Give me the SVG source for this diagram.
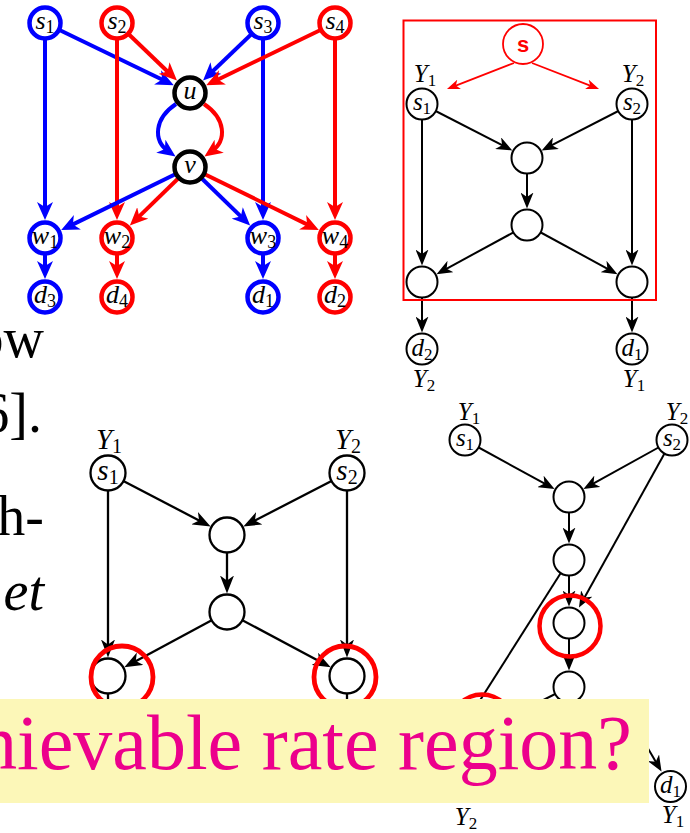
<svg xmlns="http://www.w3.org/2000/svg" width="690" height="833" viewBox="0 0 690 833">
<style>
.nb{fill:#fff;stroke:#0000ff;stroke-width:4.5}
.nr{fill:#fff;stroke:#ff0000;stroke-width:4.5}
.nk{fill:#fff;stroke:#000;stroke-width:4.5}
.n{fill:#fff;stroke:#000;stroke-width:2}
.n2{fill:#fff;stroke:#000;stroke-width:2.3}
.hl{fill:none;stroke:#ff0000;stroke-width:4.8}
.eb{fill:none;stroke:#0000ff;stroke-width:4;marker-end:url(#aB)}
.er{fill:none;stroke:#ff0000;stroke-width:4;marker-end:url(#aR)}
.ek{fill:none;stroke:#000;stroke-width:2;marker-end:url(#aK)}
.ek2{fill:none;stroke:#000;stroke-width:2.3;marker-end:url(#aK2)}
.el{fill:none;stroke:#000;stroke-width:2}
.el2{fill:none;stroke:#000;stroke-width:2.3}
.es{fill:none;stroke:#ff0000;stroke-width:1.8;marker-end:url(#aR2)}
text{font-family:"Liberation Serif","Times New Roman",serif;fill:#000}
.m{text-anchor:middle}
.i{font-style:italic}
.f26{font-size:26px}.f25{font-size:25px}.f29{font-size:29px}
.s18{font-size:18px}.s17{font-size:17px}.s20{font-size:20px}
.big{font-size:56px;text-anchor:end}
</style>
<defs>
<marker id="aB" markerUnits="userSpaceOnUse" viewBox="0 0 18 16" markerWidth="18" markerHeight="16" refX="10" refY="8" orient="auto"><path d="M0,0 L18,8 L0,16 L5,8 Z" fill="#0000ff"/></marker>
<marker id="aR" markerUnits="userSpaceOnUse" viewBox="0 0 18 16" markerWidth="18" markerHeight="16" refX="10" refY="8" orient="auto"><path d="M0,0 L18,8 L0,16 L5,8 Z" fill="#ff0000"/></marker>
<marker id="aK" markerUnits="userSpaceOnUse" viewBox="0 0 16 13" markerWidth="16" markerHeight="13" refX="10" refY="6.5" orient="auto"><path d="M0,0 L16,6.5 L0,13 L4.5,6.5 Z" fill="#000"/></marker>
<marker id="aK2" markerUnits="userSpaceOnUse" viewBox="0 0 18 14" markerWidth="18" markerHeight="14" refX="12" refY="7" orient="auto"><path d="M0,0 L18,7 L0,14 L5,7 Z" fill="#000"/></marker>
<marker id="aR2" markerUnits="userSpaceOnUse" viewBox="0 0 13 10" markerWidth="13" markerHeight="10" refX="9" refY="5" orient="auto"><path d="M0,0 L13,5 L0,10 L3.5,5 Z" fill="#ff0000"/></marker>
</defs>

<!-- connectors -->
<g id="connectors">
  <!-- top-left network -->
  <path class="eb" d="M45,23 L45,212"/>
  <path class="eb" d="M45,23 L166.6,81.7"/>
  <path class="er" d="M117,23 L171.2,75"/>
  <path class="er" d="M117,23 L117,212"/>
  <path class="eb" d="M263,23 L208.8,75"/>
  <path class="eb" d="M263,23 L263,212"/>
  <path class="er" d="M335,23 L213.4,81.7"/>
  <path class="er" d="M335,23 L335,212"/>
  <path class="eb" d="M176,104 C155,118 152,140 169,152"/>
  <path class="er" d="M204,104 C225,118 228,140 211,152"/>
  <path class="eb" d="M190,167 L68.4,226.6"/>
  <path class="er" d="M190,167 L135.6,219.9"/>
  <path class="eb" d="M190,167 L244.4,219.9"/>
  <path class="er" d="M190,167 L311.6,226.6"/>
  <path class="eb" d="M45,250 L45,271"/>
  <path class="er" d="M117,250 L117,271"/>
  <path class="eb" d="M263,250 L263,271"/>
  <path class="er" d="M335,250 L335,271"/>
  <!-- top-right network -->
  <path class="es" d="M514,63 L450.7,87.6"/>
  <path class="es" d="M532,63 L595.3,87.6"/>
  <path class="ek" d="M422,104 L507,147.7"/>
  <path class="ek" d="M632,104 L547,147.7"/>
  <path class="ek" d="M527,158 L527,202.5"/>
  <path class="ek" d="M422,104 L422,259.5"/>
  <path class="ek" d="M632,104 L632,259.5"/>
  <path class="ek" d="M527,225 L441.8,271.3"/>
  <path class="ek" d="M527,225 L612.2,271.3"/>
  <path class="ek" d="M422,282 L422,326.5"/>
  <path class="ek" d="M632,282 L632,326.5"/>
  <!-- bottom-left network -->
  <path class="ek2" d="M108,473 L205.3,523.7"/>
  <path class="ek2" d="M347,473 L248.7,523.75"/>
  <path class="ek2" d="M227,535 L227,587.5"/>
  <path class="ek2" d="M108,473 L108,651.5"/>
  <path class="ek2" d="M347,473 L347,651.5"/>
  <path class="ek2" d="M227,612 L129.6,664.4"/>
  <path class="ek2" d="M227,612 L325.4,664.5"/>
  <path class="el2" d="M108,676 L108,730"/>
  <path class="el2" d="M347,676 L347,730"/>
  <!-- bottom-right network -->
  <path class="ek" d="M465,440 L549.3,486.2"/>
  <path class="ek" d="M672,440 L588.7,486.1"/>
  <path class="ek" d="M569,497 L569,537.5"/>
  <path class="ek" d="M569,560 L569,600.5"/>
  <path class="ek" d="M672,440 L581.9,602.3"/>
  <path class="ek" d="M569,623 L569,664.5"/>
  <path class="el" d="M569,560 L458,735"/>
  <path class="el" d="M569,687 L480,732"/>
  <path class="ek" d="M636,728 L658.5,766.4"/>
</g>

<!-- top-left network nodes -->
<g id="tl-s1"><circle class="nb" cx="45" cy="23" r="15.5"/><text class="m f26" x="45" y="29"><tspan class="i">s</tspan><tspan class="s18" dy="4">1</tspan></text></g>
<g id="tl-s2"><circle class="nr" cx="117" cy="23" r="15.5"/><text class="m f26" x="117" y="29"><tspan class="i">s</tspan><tspan class="s18" dy="4">2</tspan></text></g>
<g id="tl-s3"><circle class="nb" cx="263" cy="23" r="15.5"/><text class="m f26" x="263" y="29"><tspan class="i">s</tspan><tspan class="s18" dy="4">3</tspan></text></g>
<g id="tl-s4"><circle class="nr" cx="335" cy="23" r="15.5"/><text class="m f26" x="335" y="29"><tspan class="i">s</tspan><tspan class="s18" dy="4">4</tspan></text></g>
<g id="tl-u"><circle class="nk" cx="190" cy="93" r="15.5"/><text class="m f26 i" x="190" y="99">u</text></g>
<g id="tl-v"><circle class="nk" cx="190" cy="167" r="15.5"/><text class="m f26 i" x="190" y="173">v</text></g>
<g id="tl-w1"><circle class="nb" cx="45" cy="238" r="15.5"/><text class="m f26" x="45" y="244"><tspan class="i">w</tspan><tspan class="s18" dy="4">1</tspan></text></g>
<g id="tl-w2"><circle class="nr" cx="117" cy="238" r="15.5"/><text class="m f26" x="117" y="244"><tspan class="i">w</tspan><tspan class="s18" dy="4">2</tspan></text></g>
<g id="tl-w3"><circle class="nb" cx="263" cy="238" r="15.5"/><text class="m f26" x="263" y="244"><tspan class="i">w</tspan><tspan class="s18" dy="4">3</tspan></text></g>
<g id="tl-w4"><circle class="nr" cx="335" cy="238" r="15.5"/><text class="m f26" x="335" y="244"><tspan class="i">w</tspan><tspan class="s18" dy="4">4</tspan></text></g>
<g id="tl-d3"><circle class="nb" cx="45" cy="297" r="15.5"/><text class="m f26" x="45" y="303"><tspan class="i">d</tspan><tspan class="s18" dy="4">3</tspan></text></g>
<g id="tl-d4"><circle class="nr" cx="117" cy="297" r="15.5"/><text class="m f26" x="117" y="303"><tspan class="i">d</tspan><tspan class="s18" dy="4">4</tspan></text></g>
<g id="tl-d1"><circle class="nb" cx="263" cy="297" r="15.5"/><text class="m f26" x="263" y="303"><tspan class="i">d</tspan><tspan class="s18" dy="4">1</tspan></text></g>
<g id="tl-d2"><circle class="nr" cx="335" cy="297" r="15.5"/><text class="m f26" x="335" y="303"><tspan class="i">d</tspan><tspan class="s18" dy="4">2</tspan></text></g>

<!-- top-right network -->
<g id="tr-box"><rect x="403.5" y="20.5" width="252.5" height="279.5" fill="none" stroke="#ff0000" stroke-width="2"/></g>
<g id="tr-s"><circle cx="523" cy="44" r="20" fill="#fff" stroke="#ff0000" stroke-width="1.8"/><text class="m" x="523" y="52" style="font-family:'Liberation Sans',Arial,sans-serif;font-weight:bold;font-size:22px;fill:#ff0000">s</text></g>
<g id="tr-s1"><text class="m f25" x="425" y="82"><tspan class="i">Y</tspan><tspan class="s17" dy="4">1</tspan></text><circle class="n" cx="422" cy="104" r="15.5"/><text class="m f25" x="422" y="110"><tspan class="i">s</tspan><tspan class="s17" dy="4">1</tspan></text></g>
<g id="tr-s2"><text class="m f25" x="633" y="82"><tspan class="i">Y</tspan><tspan class="s17" dy="4">2</tspan></text><circle class="n" cx="632" cy="104" r="15.5"/><text class="m f25" x="632" y="110"><tspan class="i">s</tspan><tspan class="s17" dy="4">2</tspan></text></g>
<g id="tr-m1"><circle class="n" cx="527" cy="158" r="15.5"/></g>
<g id="tr-m2"><circle class="n" cx="527" cy="225" r="15.5"/></g>
<g id="tr-bl"><circle class="n" cx="422" cy="282" r="15.5"/></g>
<g id="tr-br"><circle class="n" cx="632" cy="282" r="15.5"/></g>
<g id="tr-d2"><circle class="n" cx="422" cy="349" r="15.5"/><text class="m f25" x="422" y="356"><tspan class="i">d</tspan><tspan class="s17" dy="4">2</tspan></text><text class="m f25" x="424" y="387"><tspan class="i">Y</tspan><tspan class="s17" dy="4">2</tspan></text></g>
<g id="tr-d1"><circle class="n" cx="632" cy="349" r="15.5"/><text class="m f25" x="632" y="356"><tspan class="i">d</tspan><tspan class="s17" dy="4">1</tspan></text><text class="m f25" x="634" y="387"><tspan class="i">Y</tspan><tspan class="s17" dy="4">1</tspan></text></g>

<!-- bottom-left network -->
<g id="bl-s1"><text class="m f29" x="109" y="449"><tspan class="i">Y</tspan><tspan class="s20" dy="4">1</tspan></text><circle class="n2" cx="108" cy="473" r="17.5"/><text class="m f29" x="108" y="480"><tspan class="i">s</tspan><tspan class="s20" dy="4">1</tspan></text></g>
<g id="bl-s2"><text class="m f29" x="348" y="449"><tspan class="i">Y</tspan><tspan class="s20" dy="4">2</tspan></text><circle class="n2" cx="347" cy="473" r="17.5"/><text class="m f29" x="347" y="480"><tspan class="i">s</tspan><tspan class="s20" dy="4">2</tspan></text></g>
<g id="bl-m1"><circle class="n2" cx="227" cy="535" r="17.5"/></g>
<g id="bl-m2"><circle class="n2" cx="227" cy="612" r="17.5"/></g>
<g id="bl-bl"><circle class="n2" cx="108" cy="676" r="17.5"/><circle class="hl" cx="122" cy="677" r="31"/></g>
<g id="bl-br"><circle class="n2" cx="347" cy="676" r="17.5"/><circle class="hl" cx="345" cy="677" r="31"/></g>

<!-- bottom-right network -->
<g id="br-s1"><text class="m f25" x="469" y="420"><tspan class="i">Y</tspan><tspan class="s17" dy="4">1</tspan></text><circle class="n" cx="465" cy="440" r="15.5"/><text class="m f25" x="465" y="446"><tspan class="i">s</tspan><tspan class="s17" dy="4">1</tspan></text></g>
<g id="br-s2"><text class="m f25" x="677" y="420"><tspan class="i">Y</tspan><tspan class="s17" dy="4">2</tspan></text><circle class="n" cx="672" cy="440" r="15.5"/><text class="m f25" x="672" y="446"><tspan class="i">s</tspan><tspan class="s17" dy="4">2</tspan></text></g>
<g id="br-n1"><circle class="n" cx="569" cy="497" r="15.5"/></g>
<g id="br-n2"><circle class="n" cx="569" cy="560" r="15.5"/></g>
<g id="br-n3"><circle class="n" cx="569" cy="623" r="15.5"/><circle class="hl" cx="570" cy="626" r="30.5" style="stroke-width:4.5"/></g>
<g id="br-n4"><circle class="n" cx="569" cy="687" r="15.5"/></g>
<g id="br-hl"><circle class="hl" cx="482" cy="725" r="30.5" style="stroke-width:4.5"/></g>
<g id="br-d1"><circle class="n" cx="670.5" cy="786.5" r="15.5"/><text class="m f25" x="670.5" y="793"><tspan class="i">d</tspan><tspan class="s17" dy="4">1</tspan></text><text class="m f25" x="673" y="823"><tspan class="i">Y</tspan><tspan class="s17" dy="4">1</tspan></text></g>
<g id="br-y2"><text class="m f25" x="466" y="825"><tspan class="i">Y</tspan><tspan class="s17" dy="4">2</tspan></text></g>

<!-- left text fragments -->
<g id="left-text">
  <text class="big" x="44" y="357">ow</text>
  <text class="big" x="42" y="432">6].</text>
  <text class="big" x="44" y="535">h-</text>
  <text class="big i" x="44" y="610">et</text>
</g>

<!-- banner -->
<g id="banner">
  <rect x="0" y="699" width="649" height="104" fill="#fcf7b8"/>
  <text x="-22" y="769" style="font-size:78px;fill:#ec008c">hievable rate region?</text>
</g>
</svg>
